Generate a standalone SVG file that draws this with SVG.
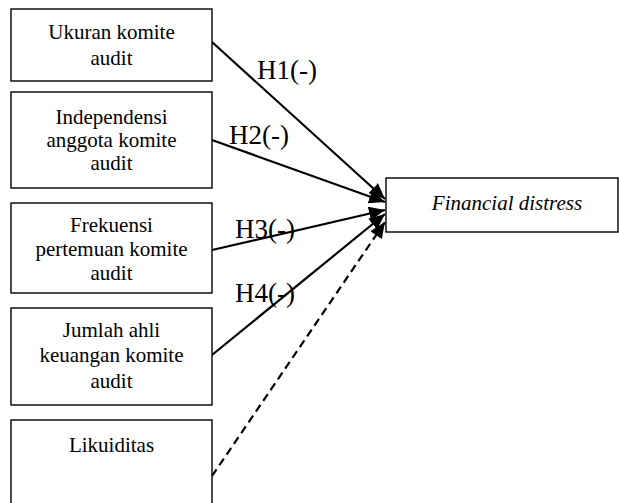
<svg xmlns="http://www.w3.org/2000/svg" width="619" height="503" viewBox="0 0 619 503">
<defs>
<style>
.box{fill:#fff;stroke:#000;stroke-width:1.4}
.t{font-family:"Liberation Serif","Times New Roman",serif;font-size:21px;fill:#000;text-anchor:middle}
.h{font-family:"Liberation Serif","Times New Roman",serif;font-size:27px;fill:#000}
.c{stroke:#000;stroke-width:2.2;fill:none}
.d{stroke-dasharray:8 5}
</style>
<marker id="arr" markerUnits="userSpaceOnUse" markerWidth="17" markerHeight="14" refX="16" refY="7" orient="auto">
<path d="M0,0 L16,7 L0,14 Z" fill="#000"/>
</marker>
</defs>
<rect width="619" height="503" fill="#fff"/>
<g id="connectors">
<line class="c" x1="212" y1="42" x2="385" y2="199" marker-end="url(#arr)"/>
<line class="c" x1="212" y1="140" x2="385" y2="202" marker-end="url(#arr)"/>
<line class="c" x1="212" y1="250" x2="385" y2="210" marker-end="url(#arr)"/>
<line class="c" x1="212" y1="355" x2="385" y2="214" marker-end="url(#arr)"/>
<line class="c d" x1="212" y1="476" x2="385" y2="222" marker-end="url(#arr)"/>
</g>
<g id="labels">
<text class="h" x="257" y="79">H1(-)</text>
<text class="h" x="229" y="144">H2(-)</text>
<text class="h" x="235" y="238">H3(-)</text>
<text class="h" x="235" y="302">H4(-)</text>
</g>
<g id="n1">
<rect class="box" x="11" y="9" width="201" height="72"/>
<text class="t" x="111.5" y="39">Ukuran komite</text>
<text class="t" x="111.5" y="65">audit</text>
</g>
<g id="n2">
<rect class="box" x="11" y="92" width="201" height="96"/>
<text class="t" x="111.5" y="124">Independensi</text>
<text class="t" x="111.5" y="147">anggota komite</text>
<text class="t" x="111.5" y="170">audit</text>
</g>
<g id="n3">
<rect class="box" x="11" y="203" width="201" height="90"/>
<text class="t" x="111.5" y="232">Frekuensi</text>
<text class="t" x="111.5" y="256">pertemuan komite</text>
<text class="t" x="111.5" y="280">audit</text>
</g>
<g id="n4">
<rect class="box" x="11" y="308" width="201" height="97"/>
<text class="t" x="111.5" y="337">Jumlah ahli</text>
<text class="t" x="111.5" y="362">keuangan komite</text>
<text class="t" x="111.5" y="388">audit</text>
</g>
<g id="n5">
<rect class="box" x="11" y="420" width="201" height="95"/>
<text class="t" x="111.5" y="452">Likuiditas</text>
</g>
<g id="n6">
<rect class="box" x="386" y="178" width="232" height="54"/>
<text class="t" x="507" y="210" font-style="italic">Financial distress</text>
</g>
</svg>
